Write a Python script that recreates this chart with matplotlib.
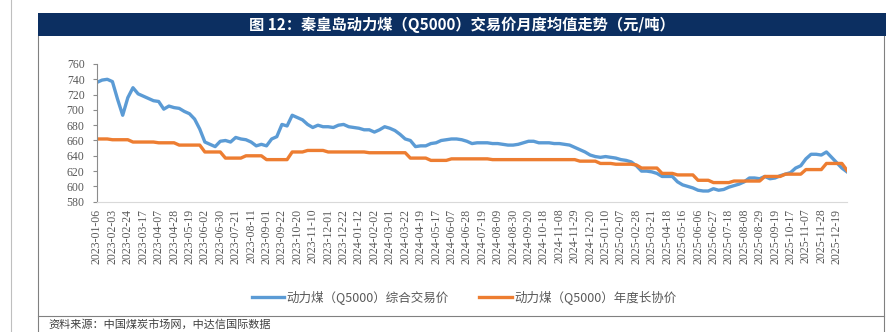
import matplotlib.pyplot as plt
from matplotlib.patches import Rectangle
from matplotlib.lines import Line2D

# weekly series, one value per week (147 points)
spot = [736, 739, 740, 737, 714, 693, 716, 729, 721, 718,
        715, 712, 711, 701, 705, 703, 702, 698, 695, 688,
        675, 658, 655, 652, 659, 660, 658, 664, 662, 661,
        658, 653, 655, 653, 662, 665, 681, 679, 693, 690,
        687, 681, 677, 680, 678, 678, 677, 680, 681, 678,
        677, 676, 674, 674, 671, 674, 678, 676, 673, 668,
        662, 660, 652, 653, 653, 656, 657, 660, 661, 662,
        662, 661, 659, 656, 657, 657, 657, 656, 656, 655,
        654, 654, 655, 657, 659, 659, 657, 657, 657, 656,
        656, 655, 654, 651, 648, 645, 641, 639, 638, 639,
        638, 637, 635, 634, 632, 627, 620, 620, 619, 617,
        613, 613, 613, 606, 602, 600, 598, 595, 594, 594,
        597, 595, 596, 599, 601, 603, 606, 611, 611, 610,
        613, 610, 611, 614, 616, 618, 624, 627, 636, 642,
        642, 641, 645, 638, 631, 624, 619]

contract = [662, 662, 662, 661, 661, 661, 661, 658, 658, 658,
            658, 658, 657, 657, 657, 657, 654, 654, 654, 654,
            654, 645, 645, 645, 645, 637, 637, 637, 637, 640,
            640, 640, 640, 635, 635, 635, 635, 635, 645, 645,
            645, 647, 647, 647, 647, 645, 645, 645, 645, 645,
            645, 645, 645, 644, 644, 644, 644, 644, 644, 644,
            644, 637, 637, 637, 637, 634, 634, 634, 634, 636,
            636, 636, 636, 636, 636, 636, 636, 635, 635, 635,
            635, 635, 635, 635, 635, 635, 635, 635, 635, 635,
            635, 635, 635, 635, 633, 633, 633, 633, 630, 630,
            630, 629, 629, 629, 629, 628, 624, 624, 624, 624,
            617, 617, 617, 615, 615, 615, 615, 608, 608, 608,
            605, 605, 605, 605, 607, 607, 607, 607, 607, 607,
            613, 613, 613, 613, 616, 616, 616, 616, 622, 622,
            622, 622, 630, 630, 630, 630, 621]

# one label every third week
tick_labels = [
    '2023-01-06', '2023-02-03', '2023-02-24', '2023-03-17', '2023-04-07',
    '2023-04-28', '2023-05-19', '2023-06-02', '2023-06-30', '2023-07-21',
    '2023-08-11', '2023-09-01', '2023-09-22', '2023-10-20', '2023-11-10',
    '2023-12-01', '2023-12-22', '2024-01-12', '2024-02-02', '2024-03-01',
    '2024-03-22', '2024-04-19', '2024-05-17', '2024-06-07', '2024-06-28',
    '2024-07-19', '2024-08-09', '2024-08-30', '2024-09-20', '2024-10-18',
    '2024-11-08', '2024-11-29', '2024-12-20', '2025-01-10', '2025-02-07',
    '2025-02-28', '2025-03-21', '2025-04-18', '2025-05-16', '2025-06-06',
    '2025-06-27', '2025-07-18', '2025-08-08', '2025-08-29', '2025-09-19',
    '2025-10-17', '2025-11-07', '2025-11-28', '2025-12-19']

label_spot = '动力煤（Q5000）综合交易价'
label_contract = '动力煤（Q5000）年度长协价'
title = '图 12：秦皇岛动力煤（Q5000）交易价月度均值走势（元/吨）'
source = '资料来源：中国煤炭市场网，中达信国际数据'

cjk = ['Noto Sans CJK SC', 'DejaVu Sans']
serif = ['Liberation Serif', 'DejaVu Serif']
W, H = 886, 332

fig = plt.figure(figsize=(W / 100, H / 100), dpi=100)

def fx(px):
    return px / W

def fy(py):
    return 1 - py / H

# frame and title bar
gray = '#808080'
fig.add_artist(Line2D([fx(11), fx(11)], [0, 1], color='#BFBFBF', lw=0.8))
fig.add_artist(Rectangle((fx(38), fy(36)), 1 - fx(38), fy(13) - fy(36),
                         facecolor='#0C2F61', edgecolor='none'))
fig.add_artist(Line2D([fx(38), fx(38)], [0, fy(36)], color=gray, lw=0.8))
fig.add_artist(Line2D([fx(884), fx(884)], [0, fy(36)], color=gray, lw=0.8))
fig.add_artist(Line2D([fx(38), fx(884)], [fy(316), fy(316)], color=gray, lw=0.8))
fig.text(fx(462), fy(24.5), title, color='white', fontsize=11, weight='bold',
         family=cjk, ha='center', va='center')
fig.text(fx(48), fy(319), source, color='#404040', fontsize=8,
         family=cjk, ha='left', va='top')

ax = fig.add_axes([fx(97), fy(201.7), fx(847) - fx(97), fy(64) - fy(201.7)])
x = list(range(len(spot)))
ax.plot(x, spot, color='#5B9BD5', lw=2.4, label=label_spot,
        solid_joinstyle='round')
ax.plot(x, contract, color='#ED7D31', lw=2.4, label=label_contract,
        solid_joinstyle='round')

ax.set_xlim(0, len(spot) - 1)
ax.set_ylim(580, 760)
ax.set_yticks(range(580, 761, 20))
ax.set_xticks(x[::3])
ax.set_xticklabels(tick_labels, rotation=90)

for s in ['top', 'right']:
    ax.spines[s].set_visible(False)
ax.spines['left'].set_color('#8C8C8C')
ax.spines['bottom'].set_color('#D9D9D9')
ax.tick_params(axis='y', length=3, color='#8C8C8C', pad=6,
               labelsize=8.5, labelcolor='#595959')
ax.tick_params(axis='x', length=0, pad=5, labelsize=8.5, labelcolor='#595959')
for t in ax.get_xticklabels() + ax.get_yticklabels():
    t.set_family(serif)

fig.legend(loc='center', bbox_to_anchor=(fx(464), fy(297)), ncol=2,
           frameon=False, handlelength=2.6, columnspacing=2.4,
           handletextpad=0.2, prop={'family': cjk, 'size': 9},
           labelcolor='#595959')

plt.savefig('out.png', dpi=100)
plt.close(fig)
